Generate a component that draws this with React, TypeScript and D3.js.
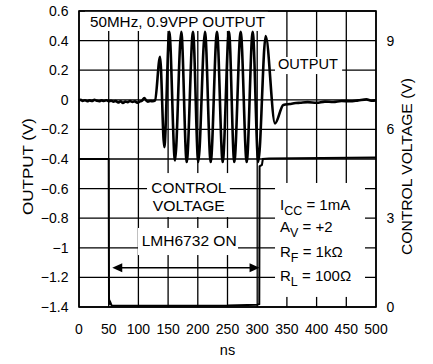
import * as d3 from 'd3';

// time axis (ns) and the two voltage axes
const xTicks = [0, 50, 100, 150, 200, 250, 300, 350, 400, 450, 500];
const yTicks = [0.6, 0.4, 0.2, 0, -0.2, -0.4, -0.6, -0.8, -1, -1.2, -1.4];
const yRightTicks = [0, 3, 6, 9];

// output trace (ns, V)
const outTime = [
  0, 3, 6, 10, 14, 18, 22, 26, 30, 34, 38, 42, 46, 50, 54, 58, 62, 66, 70, 74,
  78, 82, 86, 90, 94, 98, 102, 106, 110, 113, 116, 120, 124, 128,
  136.4, 143.6, 152, 161.6, 172.2, 181.3, 191.9, 200.8, 212.1, 221.7, 232.3,
  241.9, 252.5, 261.4, 272.2, 282.3, 292.4, 301.8, 314.3, 330, 344,
  355, 365, 372, 385, 400, 414, 428, 442, 456, 470, 484, 492, 500,
];
const outValue = [
  -0.005, 0.0, -0.008, -0.003, -0.01, -0.004, -0.008, 0.0, -0.006, -0.01, -0.004,
  -0.008, -0.003, -0.01, -0.006, -0.012, -0.008, -0.018, -0.01, -0.022,
  -0.012, -0.016, -0.008, -0.015, -0.01, -0.02, -0.012, -0.006, 0.012, -0.004,
  -0.012, -0.008, -0.01, -0.004,
  0.29, -0.32, 0.46, -0.41, 0.46, -0.42, 0.46, -0.42, 0.46, -0.42, 0.46,
  -0.42, 0.46, -0.42, 0.46, -0.42, 0.46, -0.42, 0.43, -0.16, -0.035,
  -0.028, -0.022, -0.02, -0.016, -0.02, -0.012, -0.015, -0.008, -0.01, -0.004,
  0.003, -0.006, -0.004,
];

// control voltage trace (ns, V on right axis)
const ctrlTime = [0, 50, 50.5, 51.5, 53, 55, 150, 250, 300, 303.5, 304, 308, 309.5, 320, 500];
const ctrlValue = [5.0, 5.0, 0.3, 0.08, 0.15, 0.05, 0.04, 0.05, 0.08, 0.1, 4.75, 4.8, 5.0, 5.02, 5.05];

const W = 433;
const H = 364;
const FONT = 'Liberation Sans, Arial, Helvetica, sans-serif';

const App = () => {
  const x = d3.scaleLinear().domain([0, 500]).range([79, 376]);
  const y = d3.scaleLinear().domain([-1.4, 0.6]).range([307, 11]);
  const yR = d3.scaleLinear().domain([0, 10]).range([307, 11]);

  const outPts = outTime.map((t, i) => [t, outValue[i]] as [number, number]);
  const ctrlPts = ctrlTime.map((t, i) => [t, ctrlValue[i]] as [number, number]);

  const outLine = d3
    .line<[number, number]>()
    .x((d) => x(d[0]))
    .y((d) => y(d[1]))
    .curve(d3.curveMonotoneX);
  const ctrlLine = d3
    .line<[number, number]>()
    .x((d) => x(d[0]))
    .y((d) => yR(d[1]));

  // white patches that break the grid behind the labels (ns / V units)
  const boxes = [
    [10, 318, 0.6, 0.465],
    [330, 443, 0.289, 0.174],
    [114.5, 254, -0.495, -0.792],
    [99.3, 267.7, -0.866, -1.049],
    [330, 481.5, -0.562, -1.332],
  ];

  const paramRows = [
    { main: 'I', sub: 'CC', rest: ' = 1mA', v: -0.745 },
    { main: 'A', sub: 'V', rest: ' = +2', v: -0.893 },
    { main: 'R', sub: 'F', rest: ' = 1kΩ', v: -1.062 },
    { main: 'R', sub: 'L', rest: ' = 100Ω', v: -1.224 },
  ];

  const arrowY = y(-1.135);
  const ax0 = x(56);
  const ax1 = x(304);

  return (
    <svg
      width={W}
      height={H}
      style={{ position: 'absolute', left: 0, top: 0, background: '#fff' }}
      fontFamily={FONT}
    >
      <rect width={W} height={H} fill='#fff' />

      {/* grid */}
      <g stroke='#000' strokeWidth={1.3}>
        {xTicks.map((t) => (
          <line key={'gx' + t} x1={x(t)} x2={x(t)} y1={y(0.6)} y2={y(-1.4)} />
        ))}
        {yTicks.map((t) => (
          <line key={'gy' + t} x1={x(0)} x2={x(500)} y1={y(t)} y2={y(t)} />
        ))}
      </g>

      {boxes.map((b, i) => (
        <rect
          key={'b' + i}
          x={x(b[0])}
          y={y(b[2])}
          width={x(b[1]) - x(b[0])}
          height={y(b[3]) - y(b[2])}
          fill='#fff'
        />
      ))}

      <rect
        x={x(0)}
        y={y(0.6)}
        width={x(500) - x(0)}
        height={y(-1.4) - y(0.6)}
        fill='none'
        stroke='#000'
        strokeWidth={1.6}
      />

      {/* tick labels */}
      <g fontSize={14} fill='#000'>
        {yTicks.map((t) => (
          <text key={'ly' + t} x={68.5} y={y(t) + 5} textAnchor='end'>
            {t === 0 ? '0' : d3.format('')(t)}
          </text>
        ))}
        {xTicks.map((t) => (
          <text key={'lx' + t} x={x(t)} y={333.5} textAnchor='middle'>
            {t}
          </text>
        ))}
        {yRightTicks.map((t) => (
          <text key={'lr' + t} x={386.5} y={yR(t) + 5}>
            {t}
          </text>
        ))}
      </g>

      {/* axis titles */}
      <g fontSize={14.5} fill='#000'>
        <text x={x(250)} y={355} textAnchor='middle'>
          ns
        </text>
        <text
          transform={`translate(33,166.5) rotate(-90)`}
          textAnchor='middle'
          textLength={97}
          lengthAdjust='spacingAndGlyphs'
        >
          OUTPUT (V)
        </text>
        <text
          transform={`translate(411.5,166.5) rotate(-90)`}
          textAnchor='middle'
          textLength={177}
          lengthAdjust='spacingAndGlyphs'
        >
          CONTROL VOLTAGE (V)
        </text>
      </g>

      {/* annotations */}
      <g fontSize={15} fill='#000'>
        <text x={x(18.5)} y={y(0.49)} textLength={175} lengthAdjust='spacingAndGlyphs'>
          50MHz, 0.9VPP OUTPUT
        </text>
        <text x={x(335)} y={y(0.205)} textLength={60} lengthAdjust='spacingAndGlyphs'>
          OUTPUT
        </text>
        <text x={x(185)} y={y(-0.632)} textAnchor='middle' textLength={75} lengthAdjust='spacingAndGlyphs'>
          CONTROL
        </text>
        <text x={x(185)} y={y(-0.751)} textAnchor='middle' textLength={72} lengthAdjust='spacingAndGlyphs'>
          VOLTAGE
        </text>
        <text x={x(185.5)} y={y(-0.991)} textAnchor='middle' textLength={95} lengthAdjust='spacingAndGlyphs'>
          LMH6732 ON
        </text>
        {paramRows.map((r) => (
          <text key={r.main + r.sub} x={x(338.4)} y={y(r.v)} fontSize={15}>
            {r.main}
            <tspan fontSize={12.5} dy={5}>
              {r.sub}
            </tspan>
            <tspan dy={-5}>{r.rest}</tspan>
          </text>
        ))}
      </g>

      {/* double arrow */}
      <line x1={ax0 + 8} x2={ax1 - 8} y1={arrowY} y2={arrowY} stroke='#000' strokeWidth={1.5} />
      <path d={`M${ax0},${arrowY}l10,-4.5l0,9z`} fill='#000' />
      <path d={`M${ax1},${arrowY}l-10,-4.5l0,9z`} fill='#000' />

      {/* traces */}
      <path d={ctrlLine(ctrlPts) || ''} fill='none' stroke='#000' strokeWidth={2} />
      <path
        d={outLine(outPts) || ''}
        fill='none'
        stroke='#000'
        strokeWidth={2.6}
        strokeLinejoin='round'
      />
    </svg>
  );
};

export default App;
